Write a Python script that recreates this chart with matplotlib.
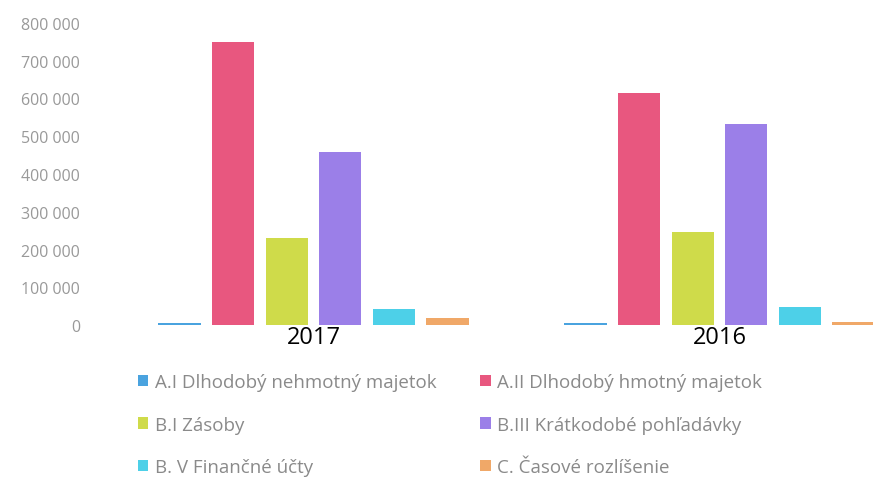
import numpy as np
import matplotlib.pyplot as plt
from matplotlib.ticker import FuncFormatter

years = ['2017', '2016']
series = ['A.I Dlhodobý nehmotný majetok', 'A.II Dlhodobý hmotný majetok',
          'B.I Zásoby', 'B.III Krátkodobé pohľadávky',
          'B. V Finančné účty', 'C. Časové rozlíšenie']
a1 = [5000, 5000]
a2 = [750000, 615000]
b1 = [230000, 246000]
b3 = [457000, 532000]
b5 = [42000, 47000]
c = [18000, 7000]
values = [a1, a2, b1, b3, b5, c]
colors = ['#4AA3DF', '#E8577F', '#CFDB4A', '#9B7FE8', '#4DD0E8', '#F0A868']

plt.rcParams['font.family'] = ['Open Sans', 'DejaVu Sans']

fig = plt.figure(figsize=(8.73, 4.81), dpi=100)
ax = fig.add_axes([0.1266, 0.3222, 0.93, 0.628])

x = np.arange(len(years))
step = 0.132
width = 0.104
bars = []
for i, vals in enumerate(values):
    b = ax.bar(x + (i - 2.5) * step, vals, width, color=colors[i], label=series[i])
    bars.append(b)

ax.set_xlim(-0.5, 1.5)
ax.set_ylim(0, 800000)
ax.set_yticks(np.arange(0, 800001, 100000))
ax.yaxis.set_major_formatter(FuncFormatter(lambda v, p: f'{int(v):,}'.replace(',', ' ')))
ax.set_xticks(x)
ax.set_xticklabels(years, fontsize=17, color='black')
ax.tick_params(axis='y', length=0, pad=22, labelsize=11.5, labelcolor='#999999')
ax.tick_params(axis='x', length=0, pad=0)
for s in ax.spines.values():
    s.set_visible(False)

# legend fills column-first, so reorder to get the row layout of the original
order = [0, 2, 4, 1, 3, 5]
fig.legend([bars[i] for i in order], [series[i] for i in order],
           loc='upper left', bbox_to_anchor=(0.158, 0.222), ncol=2, frameon=False,
           fontsize=13.5, labelcolor='#8a8a8a', handlelength=0.55, handleheight=0.55,
           handletextpad=0.35, columnspacing=2.35, labelspacing=1.3, borderpad=0,
           borderaxespad=0)

fig.savefig('out.png', dpi=100)
